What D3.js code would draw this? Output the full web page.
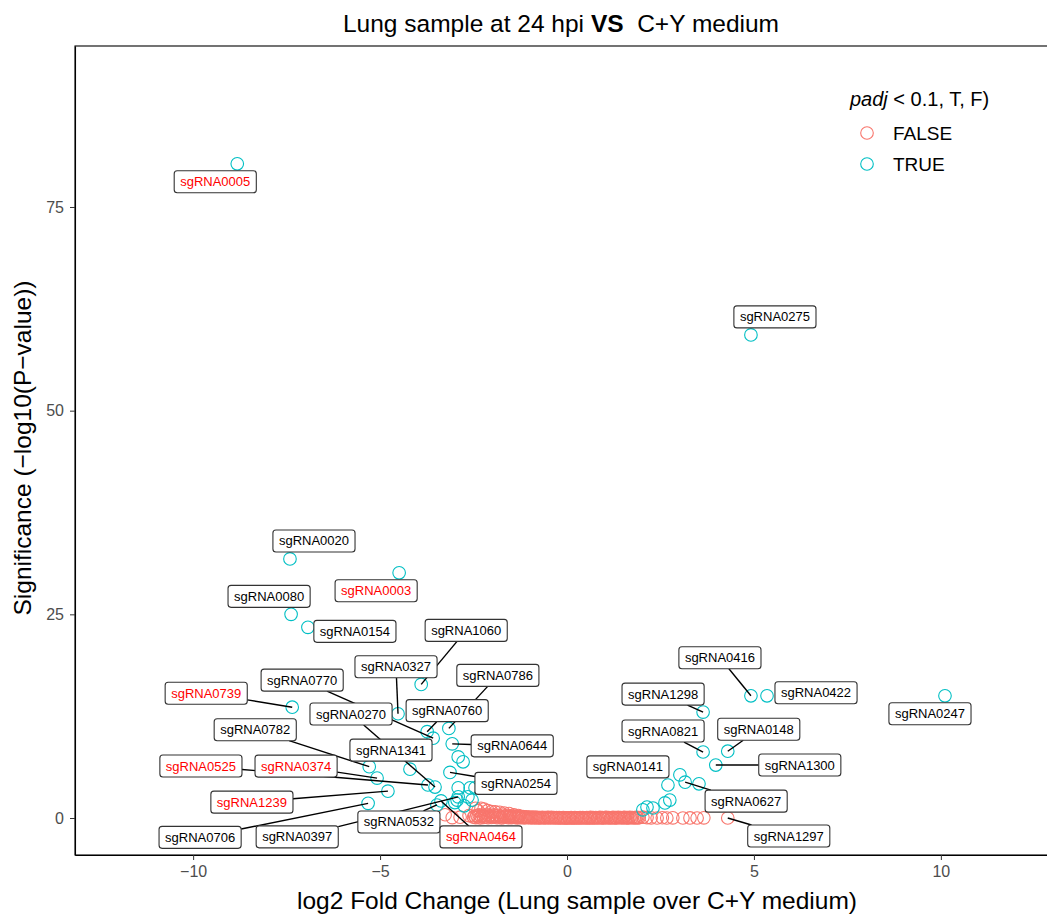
<!DOCTYPE html>
<html>
<head>
<meta charset="utf-8">
<script src="https://cdn.jsdelivr.net/npm/d3@7"></script>
<style>
body { margin: 0; background: #fff; }
text { font-family: "Liberation Sans", Arial, sans-serif; }
</style>
</head>
<body>
<script>
// labelled sgRNAs: log2 fold change, -log10(p), padj < 0.1
var labelNames = ["sgRNA0005","sgRNA0275","sgRNA0020","sgRNA0003","sgRNA0080","sgRNA0154","sgRNA1060","sgRNA0327",
  "sgRNA0786","sgRNA0760","sgRNA0770","sgRNA0644","sgRNA0739","sgRNA1341","sgRNA0782","sgRNA0374","sgRNA0525",
  "sgRNA0270","sgRNA1239","sgRNA0706","sgRNA0254","sgRNA0532","sgRNA0464","sgRNA0397","sgRNA0416","sgRNA0422",
  "sgRNA0247","sgRNA1298","sgRNA0821","sgRNA0148","sgRNA1300","sgRNA0141","sgRNA0627","sgRNA1297"];
var labelLFC = [-8.82, 4.92, -7.41, -4.49, -7.38, -6.93, -3.90, -4.52,
  -3.16, -3.74, -3.58, -3.07, -7.35, -4.20, -5.29, -5.08, -3.72,
  -3.53, -4.79, -5.32, -3.13, -3.48, -3.37, -2.91, 4.92, 5.35,
  10.11, 3.64, 3.64, 4.30, 3.98, 3.02, 3.16, 4.30];
var labelSig = [80.3, 59.3, 31.8, 30.1, 25.0, 23.4, 16.4, 12.8,
  11.0, 10.6, 9.8, 9.1, 13.6, 6.0, 6.3, 4.9, 4.05,
  3.8, 3.3, 1.8, 5.6, 1.6, 2.1, 2.6, 15.0, 15.0,
  15.0, 13.0, 8.1, 8.2, 6.5, 5.3, 4.4, 0.0];
var labelPadj = labelNames.map(function(n){ return n !== "sgRNA1297"; });
var redNames = ["sgRNA0005","sgRNA0003","sgRNA0739","sgRNA0525","sgRNA0374","sgRNA1239","sgRNA0464"];

// other significant sgRNAs [lfc, sig]
var otherTrue = [[-2.91,7.5],[-2.78,6.9],[-2.91,3.7],[-2.59,3.7],[-2.46,3.7],[-2.65,2.6],[-2.54,2.2],
  [-2.94,2.2],[-2.75,1.5],[-3.00,1.9],
  [3.53,4.2],[2.70,4.05],[2.75,2.2],[2.62,1.85],[2.14,1.35],[2.30,1.23],[2.03,1.0]];

// not significant sgRNAs [lfc, sig]
var otherFalse = [[-3.26,0.4],[-3.07,0.05],[-2.86,0.1],[-2.62,0.3],[-2.45,1.2],[-2.38,0.9],[-2.30,1.2],
  [-2.22,1.1],[-2.12,0.9],[-2.02,0.8],[-1.92,0.75],[-1.80,0.7],[-1.68,0.6],[-1.55,0.55],[-1.42,0.4],[-1.30,0.3],
  [-2.50,0.10],[-2.47,0.25],[-2.44,0.05],[-2.41,0.30],[-2.38,0.15],[-2.35,0.40],[-2.32,0.02],[-2.29,0.20],[-2.26,0.35],[-2.23,0.08],
  [-2.20,0.28],[-2.17,0.12],[-2.14,0.45],[-2.11,0.03],[-2.08,0.22],[-2.05,0.31],[-2.02,0.06],[-1.99,0.18],[-1.96,0.40],[-1.93,0.10],
  [-1.90,0.27],[-1.87,0.04],[-1.84,0.33],[-1.81,0.14],[-1.78,0.21],[-1.75,0.02],[-1.72,0.36],[-1.69,0.09],[-1.66,0.24],[-1.63,0.15],
  [-1.60,0.30],[-1.57,0.05],[-1.54,0.19],[-1.51,0.26],[-1.48,0.03],[-1.45,0.12],[-1.42,0.22],[-1.39,0.07],[-1.36,0.17],[-1.33,0.01],
  [-1.30,0.13],[-1.27,0.20],[-1.24,0.04],[-1.21,0.11],[-1.18,0.16],[-1.15,0.02],[-1.12,0.09],[-1.09,0.14],[-1.06,0.03],[-1.03,0.08],
  [-1.00,0.12],[-0.97,0.01],[-0.94,0.06],[-0.91,0.10],[-0.88,0.02],[-0.85,0.07],[-0.82,0.04],[-0.79,0.09],[-0.76,0.01],[-0.73,0.05],
  [-0.70,0.03],[-0.66,0.08],[-0.63,0.01],[-0.59,0.06],[-0.56,0.02],[-0.52,0.09],[-0.49,0.04],[-0.45,0.01],[-0.42,0.07],[-0.38,0.03],
  [-0.35,0.05],[-0.31,0.00],[-0.28,0.06],[-0.24,0.02],[-0.21,0.04],[-0.17,0.00],[-0.14,0.03],[-0.10,0.05],[-0.07,0.01],[-0.03,0.02],
  [0.00,0.00],[0.04,0.03],[0.07,0.01],[0.11,0.04],[0.14,0.00],[0.18,0.02],[0.21,0.05],[0.25,0.01],[0.28,0.03],[0.32,0.00],
  [0.35,0.04],[0.39,0.02],[0.42,0.06],[0.46,0.01],[0.49,0.03],[0.53,0.05],[0.56,0.00],[0.60,0.02],[0.63,0.07],[0.67,0.01],
  [0.70,0.04],[0.74,0.02],[0.77,0.06],[0.81,0.00],[0.84,0.03],[0.88,0.08],[0.91,0.02],[0.95,0.05],[0.98,0.01],[1.02,0.04],
  [1.05,0.09],[1.09,0.02],[1.12,0.06],[1.16,0.00],[1.19,0.03],[1.23,0.07],[1.26,0.01],[1.30,0.05],[1.33,0.02],[1.37,0.08],
  [1.40,0.03],[1.44,0.06],[1.47,0.01],[1.51,0.04],[1.54,0.09],[1.58,0.02],[1.61,0.05],[1.65,0.00],[1.68,0.07],[1.72,0.03],
  [1.75,0.06],[1.79,0.01],[1.82,0.04],[1.86,0.08],[1.89,0.02],[1.93,0.05],
  [2.03,0.10],[2.14,0.05],[2.25,0.02],[2.41,0.00],[2.55,0.03],[2.67,0.00],[2.83,0.02],[3.10,0.00],[3.29,0.01],[3.48,0.00],[3.66,0.02]];

var xTicks = [-10, -5, 0, 5, 10];
var yTicks = [0, 25, 50, 75];
var legendLevels = ["FALSE", "TRUE"];

// where each label sits relative to its point (px), as ggrepel placed them
var labelNudge = {
  sgRNA0005:[-22,18], sgRNA0275:[24,-18], sgRNA0020:[24,-18], sgRNA0003:[-23,18], sgRNA0080:[-22,-18],
  sgRNA0154:[47,4], sgRNA1060:[45,-54], sgRNA0327:[-2,-47], sgRNA0786:[49,-53], sgRNA0760:[20,-21],
  sgRNA0770:[-131,-58], sgRNA0644:[60,2], sgRNA0739:[-86,-14], sgRNA1341:[-19,-19], sgRNA0782:[-114,-37],
  sgRNA0374:[-81,-12], sgRNA0525:[-227,-19], sgRNA0270:[-84,-73], sgRNA1239:[-136,11], sgRNA0706:[-168,34],
  sgRNA0254:[66,11], sgRNA0532:[-38,17], sgRNA0464:[40,36], sgRNA0397:[-161,40], sgRNA0416:[-31,-38],
  sgRNA0422:[49,-3], sgRNA0247:[-15,18], sgRNA1298:[-40,-18], sgRNA0821:[-40,-21], sgRNA0148:[31,-22],
  sgRNA1300:[84,0], sgRNA0141:[-52,-8], sgRNA0627:[61,19], sgRNA1297:[61,18]
};

var width = 1047, height = 914;
var panel = {left: 75, right: 1059, top: 46, bottom: 855};
var col = {"FALSE": "#F8766D", "TRUE": "#00BFC4"};

var x = d3.scaleLinear().domain([-13.16, 13.16]).range([panel.left, panel.right]);
var y = d3.scaleLinear().domain([-4.54, 94.76]).range([panel.bottom, panel.top]);

var svg = d3.select("body").append("svg").attr("width", width).attr("height", height);

// panel border
svg.append("rect").attr("x", panel.left).attr("y", panel.top)
  .attr("width", panel.right - panel.left).attr("height", panel.bottom - panel.top)
  .attr("fill", "none").attr("stroke", "#000").attr("stroke-width", 1.1);

var fmt = function(d){ return d < 0 ? "\u2212" + Math.abs(d) : String(d); };
var xAxis = d3.axisBottom(x).tickValues(xTicks).tickFormat(fmt).tickSizeInner(5).tickSizeOuter(0).tickPadding(6);
var yAxis = d3.axisLeft(y).tickValues(yTicks).tickFormat(fmt).tickSizeInner(5).tickSizeOuter(0).tickPadding(6);

var gx = svg.append("g").attr("transform", "translate(0," + panel.bottom + ")").call(xAxis);
var gy = svg.append("g").attr("transform", "translate(" + panel.left + ",0)").call(yAxis);
[gx, gy].forEach(function(g){
  g.select(".domain").attr("stroke", "#000").attr("stroke-width", 1.1);
  g.selectAll(".tick line").attr("stroke", "#333");
  g.selectAll(".tick text").attr("fill", "#4D4D4D").style("font-size", "16px")
    .style("font-family", "'Liberation Sans', Arial, sans-serif");
});

// points
var pts = svg.append("g");
pts.selectAll("circle.f").data(otherFalse).enter().append("circle")
  .attr("cx", function(d){ return x(d[0]); }).attr("cy", function(d){ return y(d[1]); })
  .attr("r", 6.3).attr("fill", "none").attr("stroke", col["FALSE"]).attr("stroke-width", 1.1);
pts.selectAll("circle.t").data(otherTrue).enter().append("circle")
  .attr("cx", function(d){ return x(d[0]); }).attr("cy", function(d){ return y(d[1]); })
  .attr("r", 6.3).attr("fill", "none").attr("stroke", col["TRUE"]).attr("stroke-width", 1.1);

var labelled = labelNames.map(function(n, i){
  return {name: n, lfc: labelLFC[i], sig: labelSig[i], padj: labelPadj[i]};
});
pts.selectAll("circle.l").data(labelled).enter().append("circle")
  .attr("cx", function(d){ return x(d.lfc); }).attr("cy", function(d){ return y(d.sig); })
  .attr("r", 6.3).attr("fill", "none")
  .attr("stroke", function(d){ return d.padj ? col["TRUE"] : col["FALSE"]; })
  .attr("stroke-width", 1.1);

// repel-style labels
var segG = svg.append("g"), labG = svg.append("g");
labelled.forEach(function(d){
  var px = x(d.lfc), py = y(d.sig);
  var cx = px + labelNudge[d.name][0], cy = py + labelNudge[d.name][1];
  var g = labG.append("g");
  var t = g.append("text").attr("x", cx).attr("y", cy + 4.5).attr("text-anchor", "middle")
    .style("font-size", "13px").attr("fill", redNames.indexOf(d.name) >= 0 ? "#FF0000" : "#000").text(d.name);
  var w = t.node().getComputedTextLength() + 12, h = 22;
  g.insert("rect", "text").attr("x", cx - w / 2).attr("y", cy - h / 2).attr("width", w).attr("height", h)
    .attr("rx", 3).attr("fill", "#fff").attr("stroke", "#333").attr("stroke-width", 1.1);
  // segment from box edge toward point
  var dx = px - cx, dy = py - cy;
  var s = Math.min(Math.abs(dx) > 0 ? (w / 2) / Math.abs(dx) : Infinity, Math.abs(dy) > 0 ? (h / 2) / Math.abs(dy) : Infinity);
  if (s < 1) {
    var sx = cx + dx * s, sy = cy + dy * s;
    var len = Math.hypot(px - sx, py - sy);
    if (len > 12) {
      segG.append("line").attr("x1", sx).attr("y1", sy).attr("x2", px).attr("y2", py)
        .attr("stroke", "#000").attr("stroke-width", 1.4);
    }
  }
});

// title
var title = svg.append("text").attr("x", 561).attr("y", 32)
  .attr("text-anchor", "middle").style("font-size", "24.5px").attr("fill", "#000");
title.append("tspan").text("Lung sample at 24 hpi ");
title.append("tspan").attr("font-weight", "bold").text("VS");
title.append("tspan").text("\u00a0 C+Y medium");

// axis titles
svg.append("text").attr("x", 577).attr("y", 909).attr("text-anchor", "middle")
  .style("font-size", "24.5px").text("log2 Fold Change (Lung sample over C+Y medium)");
svg.append("text").attr("transform", "translate(31,448) rotate(-90)")
  .attr("text-anchor", "middle").style("font-size", "24.5px").text("Significance (\u2212log10(P\u2212value))");

// legend
var lg = svg.append("g");
var lt = lg.append("text").attr("x", 850).attr("y", 106).style("font-size", "20px");
lt.append("tspan").attr("font-style", "italic").text("padj");
lt.append("tspan").text(" < 0.1, T, F)");
legendLevels.forEach(function(k, i){
  lg.append("circle").attr("cx", 867).attr("cy", 133 + i * 31).attr("r", 6.3)
    .attr("fill", "none").attr("stroke", col[k]).attr("stroke-width", 1.1);
  lg.append("text").attr("x", 893).attr("y", 140 + i * 31).style("font-size", "19px").text(k);
});
</script>
</body>
</html>
